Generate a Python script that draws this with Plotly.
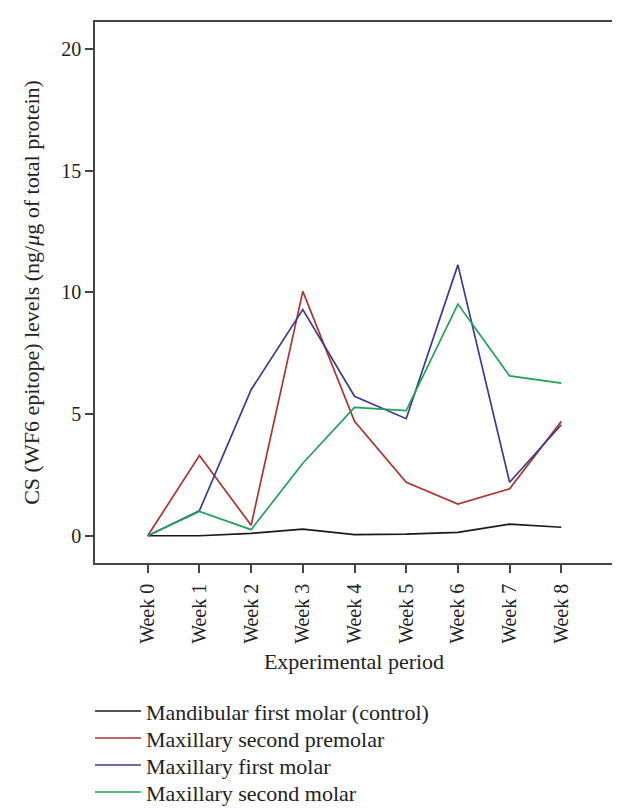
import plotly.graph_objects as go

weeks = [0, 1, 2, 3, 4, 5, 6, 7, 8]
week_labels = ["Week 0", "Week 1", "Week 2", "Week 3", "Week 4", "Week 5", "Week 6", "Week 7", "Week 8"]

mandibular_first_molar = [0.0, 0.0, 0.1, 0.27, 0.05, 0.07, 0.14, 0.48, 0.35]
maxillary_second_premolar = [0.0, 3.3, 0.43, 10.04, 4.7, 2.2, 1.3, 1.93, 4.7]
maxillary_first_molar = [0.0, 1.03, 6.0, 9.29, 5.73, 4.81, 11.13, 2.2, 4.56]
maxillary_second_molar = [0.0, 1.0, 0.25, 2.98, 5.27, 5.14, 9.52, 6.57, 6.27]

series_names = ["Mandibular first molar (control)", "Maxillary second premolar",
                "Maxillary first molar", "Maxillary second molar"]
series_values = [mandibular_first_molar, maxillary_second_premolar,
                 maxillary_first_molar, maxillary_second_molar]
series_colors = ["#1a1a1a", "#b3312f", "#3b3c8e", "#21a05a"]

FONT = "Liberation Serif"
TXT = "#222"

fig = go.Figure()
legend_keys = ["legend", "legend2", "legend3", "legend4"]
for name, vals, col, lg in zip(series_names, series_values, series_colors, legend_keys):
    fig.add_trace(go.Scatter(x=weeks, y=vals, mode="lines", name=name, legend=lg,
                             line=dict(color=col, width=1.7)))

axis_common = dict(showline=True, linecolor="#444", linewidth=1.6, mirror=True,
                   ticks="outside", ticklen=8, tickcolor="#444", tickwidth=1.5,
                   showgrid=False, zeroline=False,
                   tickfont=dict(family=FONT, size=20, color=TXT))

fig.update_xaxes(range=[-1.02, 9.0], tickvals=weeks, ticktext=week_labels, tickangle=-90,
                 ticklabelstandoff=3,
                 title=dict(text="Experimental period", font=dict(family=FONT, size=22, color=TXT), standoff=11),
                 **axis_common)
fig.update_yaxes(range=[-1.12, 21.11], tickvals=[0, 5, 10, 15, 20],
                 title=dict(text="CS (WF6 epitope) levels (ng/<i>μ</i>g of total protein)",
                            font=dict(family=FONT, size=22, color=TXT), standoff=16),
                 **axis_common)

# one legend per row so that row spacing can match the reference
row_tops = [-0.2351, -0.2850, -0.3349, -0.3848]
legend_layout = {}
for key, yy in zip(legend_keys, row_tops):
    legend_layout[key] = dict(orientation="v", x=-0.0097, xanchor="left", y=yy, yanchor="top",
                              font=dict(family=FONT, size=22, color=TXT),
                              bgcolor="rgba(0,0,0,0)", itemwidth=46, borderwidth=0)

fig.update_layout(
    width=620, height=810,
    margin=dict(l=87, r=15, t=14, b=255, autoexpand=False),
    plot_bgcolor="white", paper_bgcolor="white",
    showlegend=True,
    **legend_layout,
)

fig.write_html("out.html")
